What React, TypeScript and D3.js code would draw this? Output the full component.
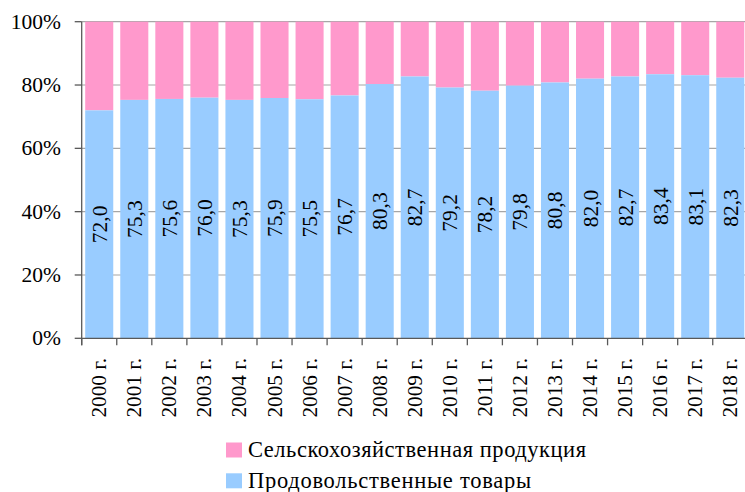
import React from "react";
import * as d3 from "d3";

const years = ["2000","2001","2002","2003","2004","2005","2006","2007","2008","2009","2010","2011","2012","2013","2014","2015","2016","2017","2018"];
const yearLabels = years.map((y) => `${y} г.`);
const foodShare = [72.0,75.3,75.6,76.0,75.3,75.9,75.5,76.7,80.3,82.7,79.2,78.2,79.8,80.8,82.0,82.7,83.4,83.1,82.3];
const seriesNames = ["Сельскохозяйственная продукция", "Продовольственные товары"];
const yTicks = [0, 20, 40, 60, 80, 100];

const PINK = "#FF99CC";
const BLUE = "#99CCFF";
const FONT = "'Liberation Serif', 'Times New Roman', serif";

export default function App() {
  const left = 81.7, right = 747.8, top = 21.7, bottom = 338.3;
  const x = d3.scaleBand<string>().domain(yearLabels).range([left, right]).paddingInner(0.2).paddingOuter(0.1);
  const y = d3.scaleLinear().domain([0, 100]).range([bottom, top]);
  const step = x.step();
  const bw = x.bandwidth();
  const fmt = (v: number) => v.toFixed(1).replace(".", ",");

  return (
    <svg width={745} height={492} style={{ position: "absolute", left: 0, top: 0, background: "#fff" }} fontFamily={FONT}>
      {yTicks.slice(1).map((t) => (
        <line key={"g" + t} x1={left} x2={745} y1={y(t)} y2={y(t)} stroke="#A6A6A6" strokeWidth={1.2} />
      ))}
      {yearLabels.map((lab, i) => {
        const x0 = x(lab)!;
        const v = foodShare[i];
        return (
          <g key={lab}>
            <rect x={x0} y={y(100)} width={bw} height={y(v) - y(100)} fill={PINK} />
            <rect x={x0} y={y(v)} width={bw} height={y(0) - y(v)} fill={BLUE} />
            <text
              transform={`translate(${x0 + bw / 2 + 7.5},${(y(v) + y(0)) / 2}) rotate(-90)`}
              textAnchor="middle"
              fontSize={21.5}
              fill="#000"
            >
              {fmt(v)}
            </text>
            <text
              transform={`translate(${x0 + bw / 2 + 7},${358}) rotate(-90)`}
              textAnchor="end"
              fontSize={21.3}
              fill="#000"
            >
              {lab}
            </text>
          </g>
        );
      })}
      <line x1={left} x2={left} y1={top} y2={bottom + 7} stroke="#595959" strokeWidth={1.3} />
      <line x1={left} x2={745} y1={bottom} y2={bottom} stroke="#595959" strokeWidth={1.3} />
      {yTicks.map((t) => (
        <g key={"t" + t}>
          <line x1={left - 7} x2={left} y1={y(t)} y2={y(t)} stroke="#595959" strokeWidth={1.3} />
          <text x={61} y={y(t) + 7} textAnchor="end" fontSize={21.5} fill="#000">{t}%</text>
        </g>
      ))}
      {yearLabels.map((lab, i) => (
        <line key={"xt" + i} x1={x(lab)! - step * 0.1} x2={x(lab)! - step * 0.1} y1={bottom} y2={bottom + 7} stroke="#595959" strokeWidth={1.3} />
      ))}
      <rect x={226} y={442.5} width={16} height={15} fill={PINK} />
      <text x={248} y={456.5} fontSize={22.5} fill="#000" textLength={338} lengthAdjust="spacing">{seriesNames[0]}</text>
      <rect x={226} y={473.3} width={16} height={15} fill={BLUE} />
      <text x={248} y={488} fontSize={22.5} fill="#000" textLength={283} lengthAdjust="spacing">{seriesNames[1]}</text>
    </svg>
  );
}
